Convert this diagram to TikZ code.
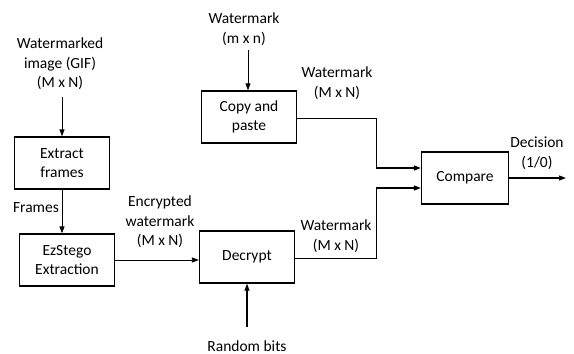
\documentclass[tikz,border=0pt]{standalone}
\usepackage{fontspec}
\setmainfont{Carlito}
\usetikzlibrary{arrows.meta}
\begin{document}
\begin{tikzpicture}[x=1pt,y=-1pt,
  blk/.style={draw, line width=1.3pt, minimum width=95pt, minimum height=52pt, align=center, inner sep=0pt},
  lbl/.style={align=center, inner sep=0pt},
  conn/.style={line width=0.8pt},
  arr/.style={line width=0.8pt, -{Triangle[length=7pt,width=5pt]}},
  every node/.append style={font=\fontsize{15.5}{19.5}\selectfont}]
\useasboundingbox (0,0) rectangle (574,354);
\node[blk] (ext) at (62,163) {Extract\\frames};
\node[blk] (ez) at (67,260) {EzStego\\Extraction};
\node[blk] (dec) at (247,257) {Decrypt};
\node[blk] (cp) at (249,117) {Copy and\\paste};
\node[blk, minimum width=87pt] (cmp) at (465,178) {Compare};

\node[lbl] (wi) at (60,64) {Watermarked\\image (GIF)\\(M x N)};
\node[lbl] (wm) at (244,29) {Watermark\\(m x n)};
\node[lbl] (wt) at (337,83) {Watermark\\(M x N)};
\node[lbl] (wb) at (336,236) {Watermark\\(M x N)};
\node[lbl] (ew) at (160,222) {Encrypted\\watermark\\(M x N)};
\node[lbl] (fr) at (36,208) {Frames};
\node[lbl] (rb) at (247,346) {Random bits};
\node[lbl] (dc) at (537,153) {Decision\\(1/0)};

\coordinate (wiend) at (62,97);
\coordinate (wmend) at (248,50);
\coordinate (rbend) at (247,327);
\coordinate (out) at (566,178);
\coordinate (j1) at (376,118);
\coordinate (j2) at (376,258);

\draw[arr] (wiend) -- (ext.north);
\draw[arr] (ext.south) -- (ez.north -| ext.south);
\draw[arr] (wmend) -- (cp.north -| wmend);
\draw[arr] (ez.east |- 0,260) -- (dec.west |- 0,260);
\draw[arr, line width=1.1pt] (rbend) -- (dec.south);
\draw[conn] (cp.east |- j1) -- (j1) -- (376,168);
\draw[arr, line width=1.3pt] (376,168) -- (cmp.west |- 0,168);
\draw[conn] (dec.east |- j2) -- (j2) -- (376,188);
\draw[arr, line width=1.3pt] (376,188) -- (cmp.west |- 0,188);
\draw[arr, line width=1.1pt] (cmp.east) -- (out);
\end{tikzpicture}
\end{document}
